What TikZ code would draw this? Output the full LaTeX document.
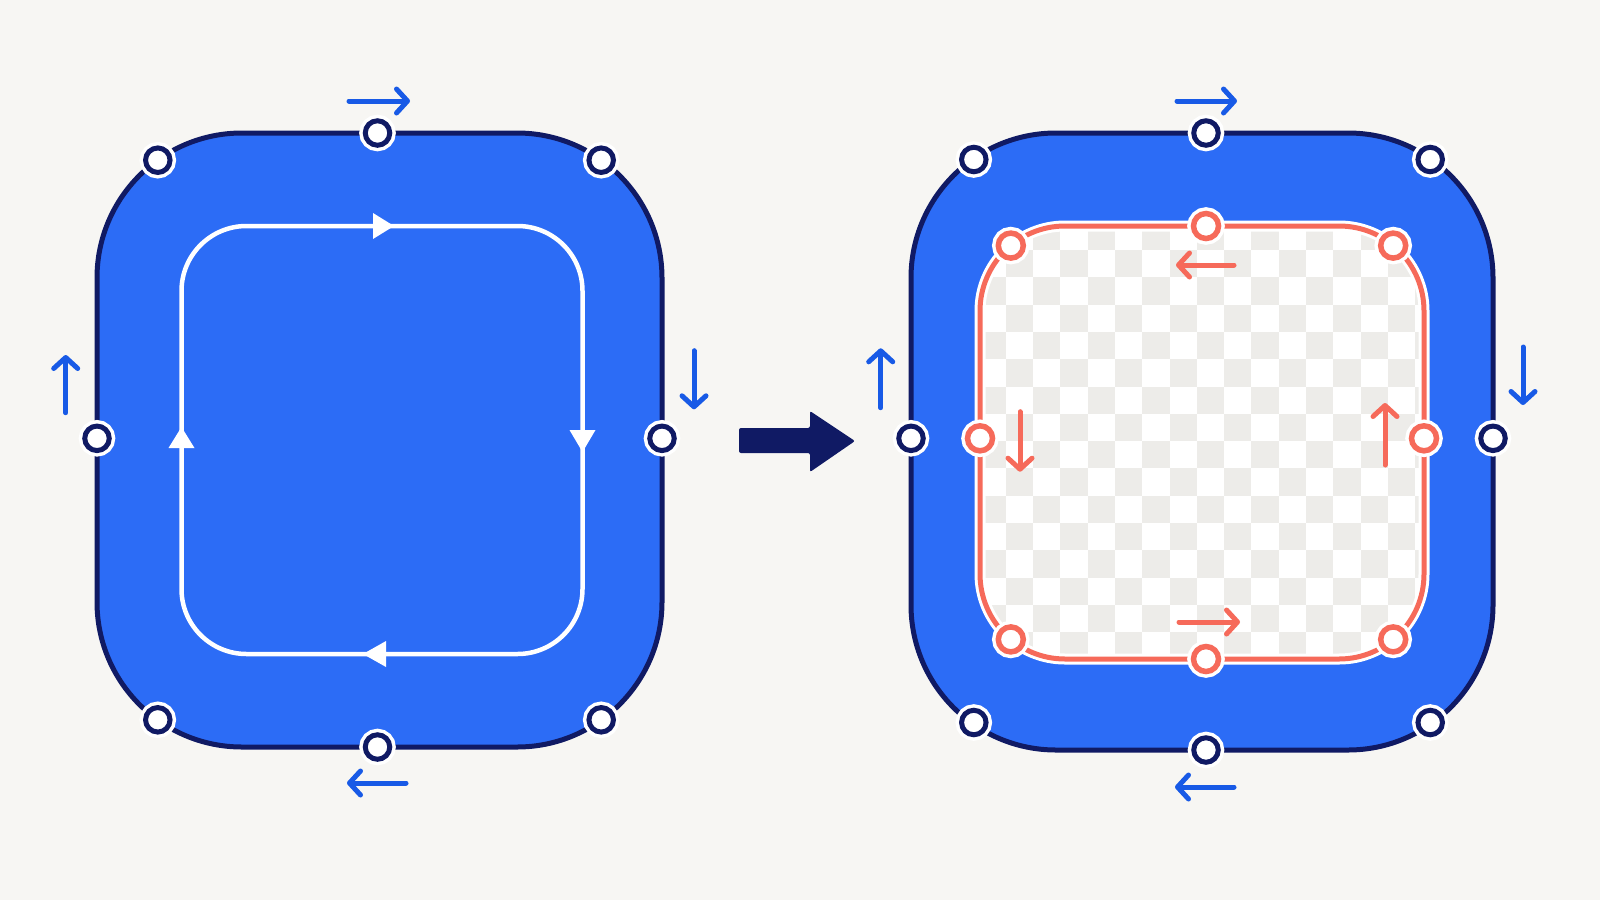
\documentclass[tikz,border=0pt]{standalone}
\usetikzlibrary{arrows.meta}
\definecolor{bg}{HTML}{F7F6F3}
\definecolor{fillblue}{HTML}{2C6CF6}
\definecolor{navy}{HTML}{101A64}
\definecolor{arrblue}{HTML}{185AE6}
\definecolor{coral}{HTML}{F66A5A}
\definecolor{checkgray}{HTML}{EDECE9}
\begin{document}
\begin{tikzpicture}[x=1pt,y=-1pt,
  navydot/.style={circle, minimum size=24.5pt, inner sep=0pt, fill=white, draw=navy, line width=5pt,
    preaction={draw=white, line width=12pt}},
  coraldot/.style={circle, minimum size=25pt, inner sep=0pt, fill=white, draw=coral, line width=5.5pt,
    preaction={draw=white, line width=12.5pt}},
  bluearr/.style={draw=arrblue, line width=5pt, line cap=round,
    -{Straight Barb[length=11pt,width=24pt,line cap=round,line join=round]}},
  coralarr/.style={draw=coral, line width=5pt, line cap=round,
    -{Straight Barb[length=11pt,width=24pt,line cap=round,line join=round]}},
  outerbox/.style={draw=navy, line width=5pt, rounded corners=145pt},
]
\useasboundingbox (0,0) rectangle (1600,900);
\fill[bg] (0,0) rectangle (1600,900);

% ---------------- left shape ----------------
\draw[outerbox, fill=fillblue] (97,133) rectangle (662,747);
\draw[white, line width=4.5pt, rounded corners=65pt] (181.5,226) rectangle (582.5,654);
\fill[white] (394,226) -- (373,213) -- (373,239) -- cycle;
\fill[white] (582.5,452) -- (569.5,430) -- (595.5,430) -- cycle;
\fill[white] (181.5,427) -- (168.5,448) -- (194.5,448) -- cycle;
\fill[white] (363,654) -- (386,641) -- (386,667) -- cycle;

\node[navydot] (L-t)  at (377.5,133) {};
\node[navydot] (L-b)  at (377.5,747) {};
\node[navydot] (L-l)  at (97,438.3) {};
\node[navydot] (L-r)  at (662,438.3) {};
\node[navydot] (L-tl) at (157.8,160.2) {};
\node[navydot] (L-tr) at (601.2,160.2) {};
\node[navydot] (L-bl) at (157.8,719.8) {};
\node[navydot] (L-br) at (601.2,719.8) {};

\draw[bluearr] (349,101) -- (410,101);
\draw[bluearr] (65.7,412.7) -- (65.7,355);
\draw[bluearr] (694,350.7) -- (694,409.3);
\draw[bluearr] (406,783) -- (347,783);

% ---------------- big arrow ----------------
\fill[navy, rounded corners=2pt] (739,428) -- (810,428) -- (810,411) -- (855,441)
  -- (810,472) -- (810,453) -- (739,453) -- cycle;

% ---------------- right shape ----------------
\fill[fillblue, rounded corners=145pt] (911,133) rectangle (1493,750);
\begin{scope}
  \clip[rounded corners=85pt] (980,226) rectangle (1424,659);
  \fill[white] (970,215) rectangle (1435,670);
  \foreach \i in {0,...,16}{
    \foreach \j in {0,...,16}{
      \pgfmathtruncatemacro{\s}{mod(\i+\j,2)}
      \ifnum\s=0
        \fill[checkgray] ({978.4+27.3*\i},{222.7+27.3*\j}) rectangle ++(27.3,27.3);
      \fi
    }
  }
\end{scope}
\draw[white, line width=11pt, rounded corners=85pt] (980,226) rectangle (1424,659);
\draw[coral, line width=5pt, rounded corners=85pt] (980,226) rectangle (1424,659);
\draw[outerbox] (911,133) rectangle (1493,750);

\node[navydot] (R-t)  at (1206,133) {};
\node[navydot] (R-b)  at (1206,750) {};
\node[navydot] (R-l)  at (911,438.3) {};
\node[navydot] (R-r)  at (1493,438.3) {};
\node[navydot] (R-tl) at (973.8,159.5) {};
\node[navydot] (R-tr) at (1430.2,159.5) {};
\node[navydot] (R-bl) at (973.8,722.5) {};
\node[navydot] (R-br) at (1430.2,722.5) {};

\node[coraldot] (C-t)  at (1206,226) {};
\node[coraldot] (C-b)  at (1206,659) {};
\node[coraldot] (C-l)  at (980,438.3) {};
\node[coraldot] (C-r)  at (1424,438.3) {};
\node[coraldot] (C-tl) at (1010.8,245.6) {};
\node[coraldot] (C-tr) at (1393.2,245.6) {};
\node[coraldot] (C-bl) at (1010.8,639.4) {};
\node[coraldot] (C-br) at (1393.2,639.4) {};

\draw[bluearr] (1177,101) -- (1237,101);
\draw[bluearr] (880.7,407.7) -- (880.7,348.3);
\draw[bluearr] (1523,347) -- (1523,405);
\draw[bluearr] (1234,787) -- (1175,787);

\draw[coralarr] (1234,265) -- (1176,265);
\draw[coralarr] (1020,411.7) -- (1020,471.7);
\draw[coralarr] (1385,465) -- (1385,403);
\draw[coralarr] (1179,622) -- (1240,622);
\end{tikzpicture}
\end{document}
